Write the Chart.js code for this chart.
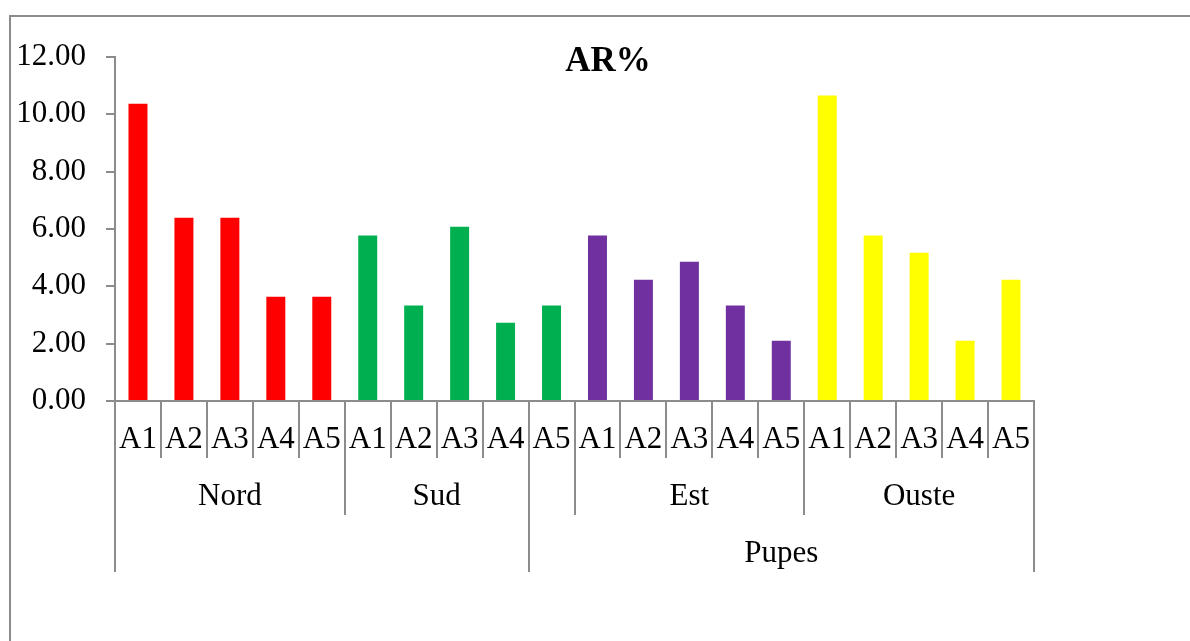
<!DOCTYPE html>
<html>
<head>
<meta charset="utf-8">
<title>AR%</title>
<script src="https://cdn.jsdelivr.net/npm/chart.js@4.4.1/dist/chart.umd.min.js"></script>
<style>
  html, body { margin: 0; padding: 0; background: #ffffff; }
  #wrap { position: relative; width: 1190px; height: 641px; }
</style>
</head>
<body>
<div id="wrap"><canvas id="chart" width="1190" height="641"></canvas></div>
<script>
// Inner category labels, one per bar
const subLabels = ['A1','A2','A3','A4','A5','A1','A2','A3','A4','A5',
                   'A1','A2','A3','A4','A5','A1','A2','A3','A4','A5'];
// AR% values, one per bar
const arValues = [10.37, 6.39, 6.39, 3.64, 3.64,
                  5.77, 3.33, 6.08, 2.73, 3.33,
                  5.77, 4.23, 4.86, 3.33, 2.10,
                  10.66, 5.77, 5.17, 2.10, 4.23];
// Bar fill colours
const barColors = ['#FF0000','#FF0000','#FF0000','#FF0000','#FF0000',
                   '#00B050','#00B050','#00B050','#00B050','#00B050',
                   '#7030A0','#7030A0','#7030A0','#7030A0','#7030A0',
                   '#FFFF00','#FFFF00','#FFFF00','#FFFF00','#FFFF00'];
// Second label row: names and how many bars each spans
const regionNames = ['Nord', 'Sud', '', 'Est', 'Ouste'];
const regionSizes = [5, 4, 1, 5, 5];
// Third label row
const stageNames = ['', 'Pupes'];
const stageSizes = [9, 11];
// Y axis range
const yMin = 0, yMax = 12, yStep = 2;

const AXIS_GRAY = '#8c8c8c';
const FONT = "'Liberation Serif', 'Times New Roman', serif";
const FONT_SIZE = 31;
const ROW_H = 57;

// boundary pixel between bar k-1 and bar k, taken from the category scale
function boundary(scale, k) {
  const n = scale.ticks.length;
  if (k <= 0) return scale.left;
  if (k >= n) return scale.right;
  return (scale.getPixelForTick(k - 1) + scale.getPixelForTick(k)) / 2;
}

const frameAndGroups = {
  id: 'frameAndGroups',
  beforeDraw(chart) {
    const ctx = chart.ctx;
    ctx.save();
    ctx.strokeStyle = AXIS_GRAY;
    ctx.lineWidth = 2;
    ctx.strokeRect(10, 16, 1400, 800);
    ctx.restore();
  },
  afterDraw(chart) {
    const ctx = chart.ctx;
    const xs = chart.scales.x;
    const top = xs.top;
    ctx.save();
    ctx.strokeStyle = AXIS_GRAY;
    ctx.lineWidth = 2;
    ctx.fillStyle = '#000';
    ctx.font = FONT_SIZE + 'px ' + FONT;
    ctx.textAlign = 'center';
    ctx.textBaseline = 'middle';

    const drawRow = (names, sizes, row) => {
      const y0 = top + ROW_H * row, y1 = y0 + ROW_H;
      let k = 0;
      const cuts = [0];
      names.forEach((name, i) => {
        const a = k, b = k + sizes[i];
        const xa = boundary(xs, a), xb = boundary(xs, b);
        if (name) ctx.fillText(name, (xa + xb) / 2, y0 + 39);
        k = b;
        cuts.push(b);
      });
      cuts.forEach(c => {
        const x = Math.round(boundary(xs, c));
        ctx.beginPath();
        ctx.moveTo(x, y0);
        ctx.lineTo(x, y1);
        ctx.stroke();
      });
    };
    drawRow(regionNames, regionSizes, 1);
    drawRow(stageNames, stageSizes, 2);

    // chart title
    ctx.font = 'bold 35px ' + FONT;
    ctx.textBaseline = 'alphabetic';
    ctx.fillText('AR%', 608, 71);
    ctx.restore();
  }
};

new Chart(document.getElementById('chart'), {
  type: 'bar',
  data: {
    labels: subLabels,
    datasets: [{
      label: 'AR%',
      data: arValues,
      backgroundColor: barColors,
      borderWidth: 0,
      barPercentage: 0.413,
      categoryPercentage: 1.0
    }]
  },
  options: {
    responsive: false,
    animation: false,
    devicePixelRatio: 1,
    layout: { padding: { left: 0, top: 57, right: 156, bottom: 69 } },
    plugins: {
      legend: { display: false },
      title: { display: false },
      tooltip: { enabled: false }
    },
    scales: {
      x: {
        type: 'category',
        offset: true,
        afterFit(scale) { scale.height = ROW_H * 3; },
        grid: {
          offset: true,
          drawOnChartArea: false,
          drawTicks: true,
          tickLength: ROW_H,
          color: AXIS_GRAY,
          lineWidth: 2
        },
        border: { display: true, color: AXIS_GRAY, width: 2 },
        ticks: {
          autoSkip: false,
          maxRotation: 0,
          minRotation: 0,
          padding: -37,
          color: '#000',
          font: { family: FONT, size: FONT_SIZE }
        }
      },
      y: {
        min: yMin,
        max: yMax,
        afterFit(scale) { scale.width = 115; },
        grid: {
          drawOnChartArea: false,
          drawTicks: true,
          tickLength: 9,
          color: AXIS_GRAY,
          lineWidth: 2
        },
        border: { display: true, color: AXIS_GRAY, width: 2 },
        ticks: {
          stepSize: yStep,
          padding: 20,
          color: '#000',
          font: { family: FONT, size: FONT_SIZE },
          callback: v => Number(v).toFixed(2)
        }
      }
    }
  },
  plugins: [frameAndGroups]
});
</script>
</body>
</html>
